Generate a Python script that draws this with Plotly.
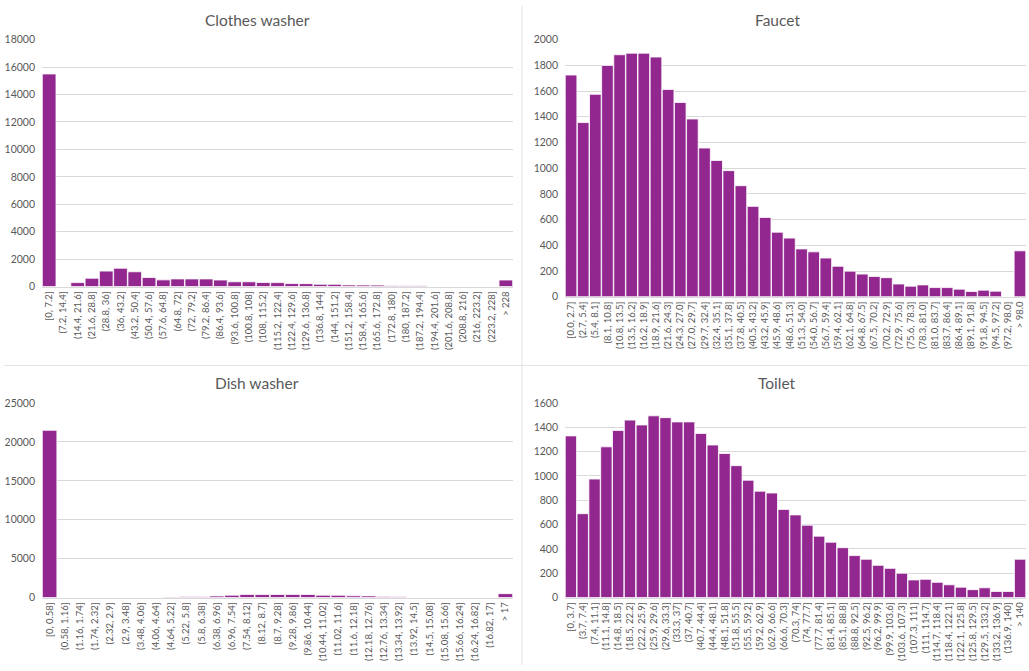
import plotly.graph_objects as go

# Bin labels and counts for each fixture
clothes_bins = ["[0, 7.2]", "(7.2, 14.4]", "(14.4, 21.6]", "(21.6, 28.8]", "(28.8, 36]", "(36, 43.2]",
                "(43.2, 50.4]", "(50.4, 57.6]", "(57.6, 64.8]", "(64.8, 72]", "(72, 79.2]", "(79.2, 86.4]",
                "(86.4, 93.6]", "(93.6, 100.8]", "(100.8, 108]", "(108, 115.2]", "(115.2, 122.4]",
                "(122.4, 129.6]", "(129.6, 136.8]", "(136.8, 144]", "(144, 151.2]", "(151.2, 158.4]",
                "(158.4, 165.6]", "(165.6, 172.8]", "(172.8, 180]", "(180, 187.2]", "(187.2, 194.4]",
                "(194.4, 201.6]", "(201.6, 208.8]", "(208.8, 216]", "(216, 223.2]", "(223.2, 228]", "> 228"]
clothes_counts = [15500, 0, 290, 610, 1130, 1340, 1080, 660, 490, 560, 560, 560, 480, 350, 350, 300,
                  290, 220, 215, 170, 165, 120, 115, 110, 80, 70, 60, 5, 0, 0, 0, 0, 480]

faucet_bins = ["[0.0, 2.7]", "(2.7, 5.4]", "(5.4, 8.1]", "(8.1, 10.8]", "(10.8, 13.5]", "(13.5, 16.2]",
               "(16.2, 18.9]", "(18.9, 21.6]", "(21.6, 24.3]", "(24.3, 27.0]", "(27.0, 29.7]", "(29.7, 32.4]",
               "(32.4, 35.1]", "(35.1, 37.8]", "(37.8, 40.5]", "(40.5, 43.2]", "(43.2, 45.9]", "(45.9, 48.6]",
               "(48.6, 51.3]", "(51.3, 54.0]", "(54.0, 56.7]", "(56.7, 59.4]", "(59.4, 62.1]", "(62.1, 64.8]",
               "(64.8, 67.5]", "(67.5, 70.2]", "(70.2, 72.9]", "(72.9, 75.6]", "(75.6, 78.3]", "(78.3, 81.0]",
               "(81.0, 83.7]", "(83.7, 86.4]", "(86.4, 89.1]", "(89.1, 91.8]", "(91.8, 94.5]", "(94.5, 97.2]",
               "(97.2, 98.0]", "> 98.0"]
faucet_counts = [1725, 1355, 1575, 1800, 1883, 1895, 1895, 1865, 1613, 1511, 1383, 1157, 1060, 981, 864,
                 703, 617, 502, 456, 372, 349, 301, 237, 199, 176, 158, 148, 99, 82, 92, 71, 71, 59, 41,
                 51, 43, 0, 357]

dish_bins = ["[0, 0.58]", "(0.58, 1.16]", "(1.16, 1.74]", "(1.74, 2.32]", "(2.32, 2.9]", "(2.9, 3.48]",
             "(3.48, 4.06]", "(4.06, 4.64]", "(4.64, 5.22]", "(5.22, 5.8]", "(5.8, 6.38]", "(6.38, 6.96]",
             "(6.96, 7.54]", "(7.54, 8.12]", "(8.12, 8.7]", "(8.7, 9.28]", "(9.28, 9.86]", "(9.86, 10.44]",
             "(10.44, 11.02]", "(11.02, 11.6]", "(11.6, 12.18]", "(12.18, 12.76]", "(12.76, 13.34]",
             "(13.34, 13.92]", "(13.92, 14.5]", "(14.5, 15.08]", "(15.08, 15.66]", "(15.66, 16.24]",
             "(16.24, 16.82]", "(16.82, 17]", "> 17"]
dish_counts = [21500, 0, 0, 0, 0, 0, 0, 0, 80, 90, 100, 200, 300, 400, 380, 390, 400, 390, 300, 290,
               220, 210, 120, 100, 0, 0, 0, 0, 0, 0, 500]

toilet_bins = ["[0, 3.7]", "(3.7, 7.4]", "(7.4, 11.1]", "(11.1, 14.8]", "(14.8, 18.5]", "(18.5, 22.2]",
               "(22.2, 25.9]", "(25.9, 29.6]", "(29.6, 33.3]", "(33.3, 37]", "(37, 40.7]", "(40.7, 44.4]",
               "(44.4, 48.1]", "(48.1, 51.8]", "(51.8, 55.5]", "(55.5, 59.2]", "(59.2, 62.9]", "(62.9, 66.6]",
               "(66.6, 70.3]", "(70.3, 74]", "(74, 77.7]", "(77.7, 81.4]", "(81.4, 85.1]", "(85.1, 88.8]",
               "(88.8, 92.5]", "(92.5, 96.2]", "(96.2, 99.9]", "(99.9, 103.6]", "(103.6, 107.3]",
               "(107.3, 111]", "(111, 114.7]", "(114.7, 118.4]", "(118.4, 122.1]", "(122.1, 125.8]",
               "(125.8, 129.5]", "(129.5, 133.2]", "(133.2, 136.9]", "(136.9, 140]", "> 140"]
toilet_counts = [1330, 690, 975, 1240, 1375, 1460, 1420, 1495, 1480, 1445, 1445, 1350, 1255, 1185, 1085,
                 965, 875, 860, 725, 680, 595, 505, 455, 410, 345, 315, 265, 240, 200, 145, 150, 125, 105,
                 85, 65, 80, 50, 50, 315]

W, H = 1029, 671
BAR = "#92278f"
GRID = "#d9d9d9"
TXT = "#595959"
FONT = "Lato, 'Open Sans', sans-serif"


def px_x(a, b):
    return [a / W, b / W]


def px_y(top, bottom):
    return [1 - bottom / H, 1 - top / H]


panels = [
    # title, bins, counts, x-domain px, y-domain px (top, bottom), y max, y step, title centre x, title y
    ("Clothes washer", clothes_bins, clothes_counts, (42, 513), (34.3, 285.7), 18000, 2000, 257, 14),
    ("Faucet", faucet_bins, faucet_counts, (565, 1026), (34.3, 296), 2000, 200, 777, 14),
    ("Dish washer", dish_bins, dish_counts, (42, 513), (404.3, 602.3), 25000, 5000, 257, 384),
    ("Toilet", toilet_bins, toilet_counts, (565, 1026), (404.3, 602.3), 1600, 200, 777, 384),
]

fig = go.Figure()
layout = {}
annotations = []
for i, (title, bins, counts, xd, yd, ymax, ystep, tx, ty) in enumerate(panels, start=1):
    xa = "x" if i == 1 else f"x{i}"
    ya = "y" if i == 1 else f"y{i}"
    fig.add_trace(go.Bar(
        x=bins, y=counts, xaxis=xa, yaxis=ya,
        marker=dict(color=BAR, line=dict(color="white", width=0.8)),
        showlegend=False,
    ))
    key = "" if i == 1 else str(i)
    layout[f"xaxis{key}"] = dict(
        domain=px_x(*xd), anchor=ya, type="category",
        categoryorder="array", categoryarray=bins,
        tickangle=-90, tickfont=dict(size=9.5, color=TXT, family=FONT),
        showline=True, linecolor=GRID, linewidth=1, showgrid=False,
        ticks="", fixedrange=True,
    )
    layout[f"yaxis{key}"] = dict(
        domain=px_y(*yd), anchor=xa, range=[0, ymax], dtick=ystep,
        tickformat="d",
        tickfont=dict(size=10.5, color=TXT, family=FONT),
        showgrid=True, gridcolor=GRID, gridwidth=1, zeroline=False,
        showline=False, ticks="", ticklabelstandoff=6, fixedrange=True,
    )
    annotations.append(dict(
        text=title, x=tx / W, y=1 - ty / H, xref="paper", yref="paper",
        xanchor="center", yanchor="middle", showarrow=False,
        font=dict(size=15.5, color=TXT, family=FONT),
    ))

# Frame lines between the four charts
shapes = [
    dict(type="line", xref="paper", yref="paper", x0=4 / W, x1=1, y0=1 - 366 / H, y1=1 - 366 / H,
         line=dict(color="#e3e3e3", width=1)),
    dict(type="line", xref="paper", yref="paper", x0=522 / W, x1=522 / W, y0=0, y1=1,
         line=dict(color="#e3e3e3", width=1)),
]

fig.update_layout(
    width=W, height=H, margin=dict(l=0, r=0, t=0, b=0),
    paper_bgcolor="white", plot_bgcolor="white",
    bargap=0.04, annotations=annotations, shapes=shapes,
    font=dict(family=FONT, color=TXT),
    **layout,
)

fig.write_html("out.html")
